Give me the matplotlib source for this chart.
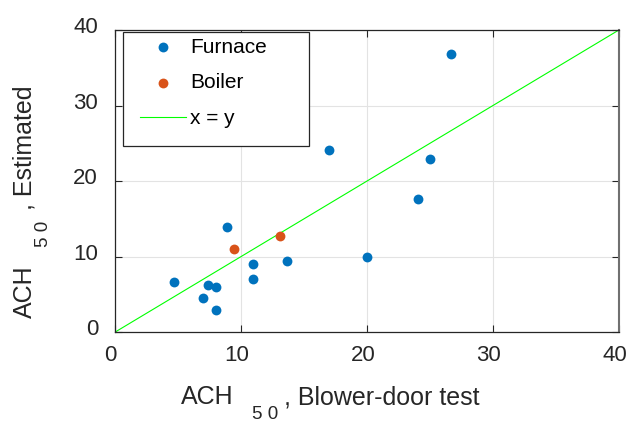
import matplotlib
matplotlib.use("Agg")
import matplotlib.pyplot as plt
from matplotlib.patches import Rectangle
from matplotlib.transforms import ScaledTranslation

plt.rcParams['font.family'] = ['Liberation Sans', 'DejaVu Sans']

furnace_x = [4.7, 7.4, 8.0, 7.0, 8.0, 8.9, 11.0, 11.0, 13.7, 17.0, 20.0, 24.1, 25.0, 26.7]
furnace_y = [6.7, 6.2, 6.0, 4.5, 3.0, 14.0, 9.0, 7.0, 9.4, 24.1, 10.0, 17.6, 23.0, 36.8]
boiler_x = [9.5, 13.1]
boiler_y = [11.0, 12.8]
line_x = [0, 40]
line_y = [0, 40]
ticks = [0, 10, 20, 30, 40]

W, H = 627, 423
fig = plt.figure(figsize=(W / 100, H / 100), dpi=100)
ax = fig.add_axes([0.183, 0.2144, 0.804, 0.7146])

ax.scatter(furnace_x, furnace_y, s=50, color='#0072BD', label='Furnace', zorder=3, linewidths=0)
ax.scatter(boiler_x, boiler_y, s=50, color='#D95319', label='Boiler', zorder=3, linewidths=0)
ax.plot(line_x, line_y, color='#00FF00', lw=0.8, label='x = y', zorder=2)

ax.set_xlim(0, 40)
ax.set_ylim(0, 40)
ax.set_xticks(ticks)
ax.set_yticks(ticks)
ax.grid(True, color='#e3e3e3', lw=0.8)
ax.set_axisbelow(True)
ax.tick_params(direction='in', length=5, top=True, right=True, labelsize=16,
               colors='#262626')
ax.tick_params(axis='x', pad=9)
ax.tick_params(axis='y', pad=12)
for lab in ax.get_yticklabels():
    lab.set_transform(lab.get_transform() + ScaledTranslation(0, 0.05, fig.dpi_scale_trans))
for lab in ax.get_xticklabels():
    lab.set_transform(lab.get_transform() + ScaledTranslation(-0.04, 0, fig.dpi_scale_trans))
for s in ax.spines.values():
    s.set_color('#262626')
    s.set_linewidth(0.9)
ax.spines['right'].set_color('#707070')
ax.spines['right'].set_linewidth(1.5)

tc = '#262626'
# x label pieces
fig.text(181 / W, (H - 404) / H, 'ACH', fontsize=18, color=tc, ha='left', va='baseline')
fig.text(252 / W, (H - 419) / H, '5 0', fontsize=13.5, color=tc, ha='left', va='baseline')
fig.text(283.5 / W, (H - 404) / H, ', Blower-door test', fontsize=18, color=tc, ha='left', va='baseline')
# y label pieces
fig.text(31.7 / W, (H - 318) / H, 'ACH', fontsize=18, color=tc, rotation=90,
         rotation_mode='anchor', ha='left', va='baseline')
fig.text(47.5 / W, (H - 247) / H, '5 0', fontsize=13.5, color=tc, rotation=90,
         rotation_mode='anchor', ha='left', va='baseline')
fig.text(31.7 / W, (H - 210) / H, ', Estimated', fontsize=18, color=tc, rotation=90,
         rotation_mode='anchor', ha='left', va='baseline')

# legend frame
ax.add_patch(Rectangle((0.0167, 0.616), 0.369, 0.377, transform=ax.transAxes,
                       facecolor='white', edgecolor='#262626', lw=0.9,
                       zorder=4.5, clip_on=False))
leg = ax.legend(loc='upper left', bbox_to_anchor=(0.0504, 0.975), fontsize=15,
                frameon=False, borderpad=0, labelspacing=0.8, handlelength=2.2,
                handletextpad=0.2, borderaxespad=0)
leg.set_zorder(5)

fig.savefig('out.png', dpi=100)
